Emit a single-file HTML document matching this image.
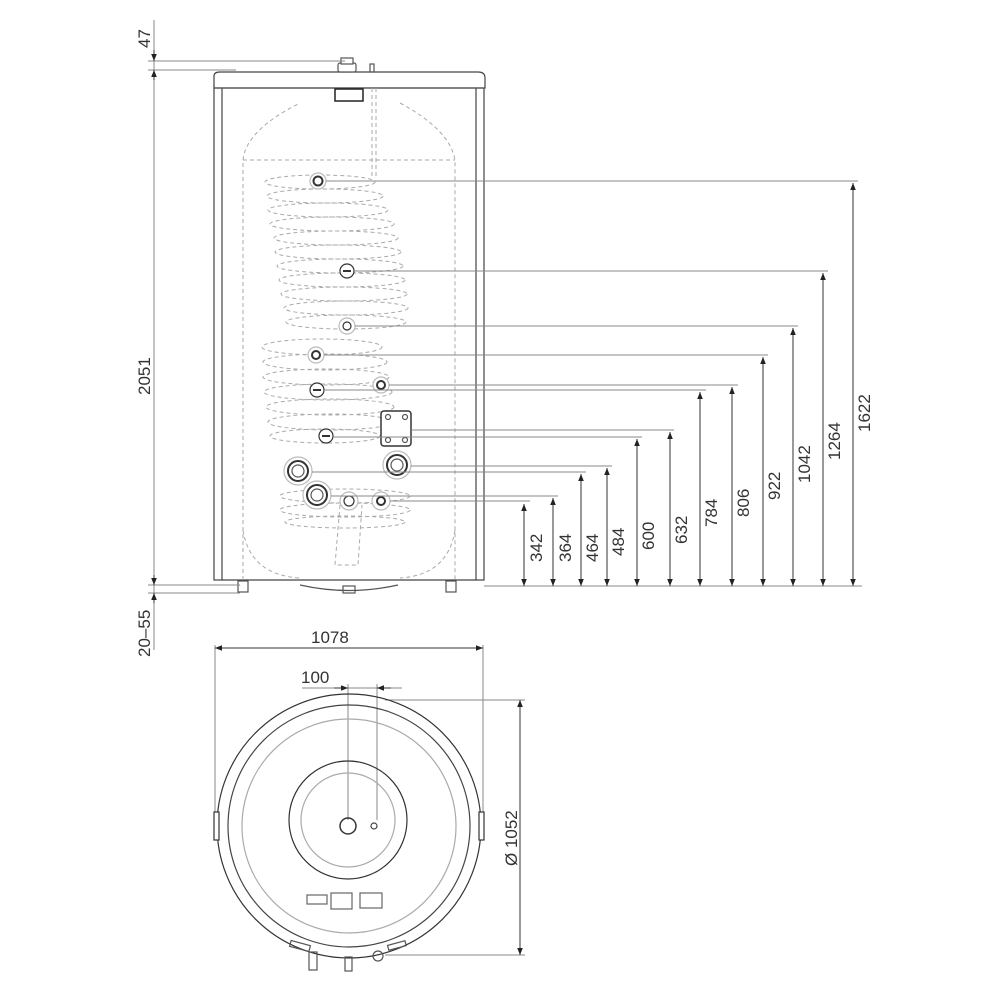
<!DOCTYPE html>
<html><head><style>
html,body{margin:0;padding:0;background:#fff}
svg{display:block}
text{font-family:"Liberation Sans",sans-serif;fill:#333}
</style></head><body>
<svg width="1000" height="1000" viewBox="0 0 1000 1000" xmlns="http://www.w3.org/2000/svg">
<defs>
<marker id="a" viewBox="0 0 10 10" refX="10" refY="5" markerWidth="7" markerHeight="9" orient="auto-start-reverse" markerUnits="userSpaceOnUse"><path d="M0,1 L10,5 L0,9 Z" fill="#222"/></marker>
</defs>
<g stroke="#555" fill="none" stroke-width="1.2">
<!-- case -->
<rect x="214" y="86" width="8" height="494" fill="#fff" stroke="#444"/>
<rect x="476" y="86" width="8" height="494" fill="#fff" stroke="#444"/>
<line x1="222" y1="580" x2="476" y2="580" stroke="#444"/>
<path d="M214,88 L214,76 Q214,72 220,72 L478,72 Q485,72 485,78 L485,88 Z" fill="#fff" stroke="#444"/>
<line x1="214" y1="88" x2="485" y2="88"/>
<rect x="338" y="63" width="18" height="9" rx="2" fill="#fff"/>
<rect x="341" y="58" width="12" height="6" fill="#fff"/>
<rect x="370" y="64" width="4" height="8"/>
<rect x="335" y="89" width="28" height="12" stroke="#222" stroke-width="1.5"/>
<!-- feet -->
<rect x="238" y="581" width="10" height="11"/>
<rect x="446" y="581" width="10" height="11"/>
<rect x="343" y="586" width="12" height="7"/>
<path d="M300,585 Q349,596 398,585"/>
</g>
<!-- inner tank dashed -->
<g stroke="#aaa" fill="none" stroke-width="1" stroke-dasharray="4,3">
<path d="M243,580 L243,160 Q246,130 300,103 M400,103 Q450,130 455,160 L455,580"/>
<path d="M243,530 Q250,575 300,578 M455,530 Q448,575 400,578"/>
<line x1="243" y1="160" x2="455" y2="160"/>
<line x1="372" y1="88" x2="372" y2="176"/><line x1="376" y1="88" x2="376" y2="176"/>
<ellipse cx="320" cy="182" rx="55" ry="7"/>
<ellipse cx="325" cy="196" rx="58" ry="7"/>
<ellipse cx="328" cy="210" rx="60" ry="7"/>
<ellipse cx="332" cy="224" rx="62" ry="7"/>
<ellipse cx="336" cy="238" rx="62" ry="7"/>
<ellipse cx="338" cy="252" rx="63" ry="7"/>
<ellipse cx="340" cy="266" rx="63" ry="7"/>
<ellipse cx="342" cy="280" rx="63" ry="7"/>
<ellipse cx="344" cy="294" rx="63" ry="7"/>
<ellipse cx="346" cy="308" rx="62" ry="7"/>
<ellipse cx="346" cy="322" rx="60" ry="7"/>
<ellipse cx="322" cy="347" rx="60" ry="8"/>
<ellipse cx="325" cy="362" rx="62" ry="8"/>
<ellipse cx="326" cy="377" rx="63" ry="8"/>
<ellipse cx="328" cy="392" rx="64" ry="8"/>
<ellipse cx="330" cy="407" rx="64" ry="8"/>
<ellipse cx="330" cy="422" rx="62" ry="8"/>
<ellipse cx="325" cy="436" rx="55" ry="7"/>
<ellipse cx="345" cy="496" rx="65" ry="7"/>
<ellipse cx="345" cy="510" rx="65" ry="7"/>
<ellipse cx="345" cy="522" rx="60" ry="6"/>
<path d="M340,505 L335,565 L358,565 L362,505"/>
</g>
<!-- fittings -->
<g stroke="#555" fill="#fff" stroke-width="1.2">
<circle cx="318" cy="181" r="8" stroke="#bbb"/><circle cx="318" cy="181" r="4.5" stroke="#333" stroke-width="2"/>
<circle cx="347" cy="271" r="7" stroke="#333"/><line x1="343" y1="271" x2="351" y2="271" stroke="#333" stroke-width="2"/>
<circle cx="347" cy="326" r="8" stroke="#bbb"/><circle cx="347" cy="326" r="4" stroke="#333"/>
<circle cx="316" cy="355" r="8" stroke="#bbb"/><circle cx="316" cy="355" r="4" stroke="#333" stroke-width="2"/>
<circle cx="381" cy="385" r="8" stroke="#bbb"/><circle cx="381" cy="385" r="4" stroke="#333" stroke-width="2"/>
<circle cx="317" cy="390" r="7" stroke="#333"/><line x1="313" y1="390" x2="321" y2="390" stroke="#333" stroke-width="2"/>
<circle cx="326" cy="436" r="7" stroke="#333"/><line x1="322" y1="436" x2="330" y2="436" stroke="#333" stroke-width="2"/>
<rect x="381" y="411" width="30" height="35" rx="3" stroke="#333" stroke-width="1.5"/>
<circle cx="388" cy="417" r="2.5"/><circle cx="405" cy="417" r="2.5"/><circle cx="388" cy="440" r="2.5"/><circle cx="405" cy="440" r="2.5"/>
<circle cx="298" cy="471" r="14" stroke="#bbb"/><circle cx="298" cy="471" r="10" stroke="#333" stroke-width="2"/><circle cx="298" cy="471" r="6"/>
<circle cx="397" cy="465" r="14" stroke="#bbb"/><circle cx="397" cy="465" r="10" stroke="#333" stroke-width="2"/><circle cx="397" cy="465" r="6"/>
<circle cx="317" cy="495" r="14" stroke="#bbb"/><circle cx="317" cy="495" r="10" stroke="#333" stroke-width="2"/><circle cx="317" cy="495" r="6"/>
<circle cx="349" cy="501" r="9" stroke="#bbb"/><circle cx="349" cy="501" r="5" stroke="#333"/>
<circle cx="381" cy="501" r="9" stroke="#bbb"/><circle cx="381" cy="501" r="4" stroke="#333" stroke-width="2"/>
</g>
<!-- leaders -->
<g stroke="#888" stroke-width="1" fill="none">
<polyline points="326,181 858,181"/>
<polyline points="355,271 828,271"/>
<polyline points="355,326 798,326"/>
<polyline points="324,355 768,355"/>
<polyline points="389,385 738,385"/>
<polyline points="324,390 706,390"/>
<polyline points="411,430 674,430"/>
<polyline points="333,437 642,437"/>
<polyline points="411,466 612,466"/>
<polyline points="312,472 586,472"/>
<polyline points="331,496 558,496"/>
<polyline points="390,501 530,501"/>
<line x1="484" y1="586" x2="862" y2="586"/>
<!-- left -->
<line x1="148" y1="61" x2="345" y2="61"/>
<line x1="148" y1="70" x2="236" y2="70"/>
<line x1="148" y1="585" x2="240" y2="585"/>
<line x1="148" y1="593" x2="240" y2="593"/>
<line x1="154" y1="20" x2="154" y2="650"/>
</g>
<g stroke="#333" stroke-width="1">
<line x1="524" y1="504" x2="524" y2="586" marker-start="url(#a)" marker-end="url(#a)"/>
<line x1="553" y1="498" x2="553" y2="586" marker-start="url(#a)" marker-end="url(#a)"/>
<line x1="581" y1="474" x2="581" y2="586" marker-start="url(#a)" marker-end="url(#a)"/>
<line x1="607" y1="468" x2="607" y2="586" marker-start="url(#a)" marker-end="url(#a)"/>
<line x1="637" y1="439" x2="637" y2="586" marker-start="url(#a)" marker-end="url(#a)"/>
<line x1="670" y1="432" x2="670" y2="586" marker-start="url(#a)" marker-end="url(#a)"/>
<line x1="700" y1="392" x2="700" y2="586" marker-start="url(#a)" marker-end="url(#a)"/>
<line x1="732" y1="387" x2="732" y2="586" marker-start="url(#a)" marker-end="url(#a)"/>
<line x1="763" y1="357" x2="763" y2="586" marker-start="url(#a)" marker-end="url(#a)"/>
<line x1="793" y1="328" x2="793" y2="586" marker-start="url(#a)" marker-end="url(#a)"/>
<line x1="823" y1="273" x2="823" y2="586" marker-start="url(#a)" marker-end="url(#a)"/>
<line x1="853" y1="183" x2="853" y2="586" marker-start="url(#a)" marker-end="url(#a)"/>
<line x1="154" y1="50" x2="154" y2="61" marker-end="url(#a)"/>
<line x1="154" y1="80" x2="154" y2="70" marker-end="url(#a)"/>
<line x1="154" y1="575" x2="154" y2="585" marker-end="url(#a)"/>
<line x1="154" y1="603" x2="154" y2="593" marker-end="url(#a)"/>
</g>
<g font-size="17">
<text transform="translate(542,562) rotate(-90)">342</text>
<text transform="translate(571,562) rotate(-90)">364</text>
<text transform="translate(598,562) rotate(-90)">464</text>
<text transform="translate(624,556) rotate(-90)">484</text>
<text transform="translate(654,550) rotate(-90)">600</text>
<text transform="translate(687,544) rotate(-90)">632</text>
<text transform="translate(717,527) rotate(-90)">784</text>
<text transform="translate(749,517) rotate(-90)">806</text>
<text transform="translate(780,500) rotate(-90)">922</text>
<text transform="translate(810,483) rotate(-90)">1042</text>
<text transform="translate(840,460) rotate(-90)">1264</text>
<text transform="translate(870,432) rotate(-90)">1622</text>
<text transform="translate(150,395) rotate(-90)">2051</text>
<text transform="translate(150,48) rotate(-90)">47</text>
<text transform="translate(150,657) rotate(-90)">20–55</text>
<text x="311" y="643">1078</text>
<text x="301" y="683">100</text>
<text transform="translate(517,866) rotate(-90)">Ø 1052</text>
</g>
<!-- top view -->
<g stroke="#888" stroke-width="1" fill="none">
<line x1="215" y1="645" x2="215" y2="815"/>
<line x1="483" y1="645" x2="483" y2="815"/>
<line x1="302" y1="688" x2="402" y2="688"/>
<line x1="348" y1="684" x2="348" y2="820"/>
<line x1="377" y1="684" x2="377" y2="820"/>
<line x1="385" y1="700" x2="525" y2="700"/>
<line x1="385" y1="955" x2="525" y2="955"/>
</g>
<g stroke="#333" stroke-width="1">
<line x1="230" y1="648" x2="215" y2="648" marker-end="url(#a)"/><line x1="230" y1="648" x2="468" y2="648"/>
<line x1="468" y1="648" x2="483" y2="648" marker-end="url(#a)"/>
<line x1="334" y1="688" x2="348" y2="688" marker-end="url(#a)"/>
<line x1="391" y1="688" x2="377" y2="688" marker-end="url(#a)"/>
<line x1="520" y1="700" x2="520" y2="955" marker-start="url(#a)" marker-end="url(#a)"/>
</g>
<g fill="none" stroke-width="1.2">
<circle cx="349" cy="826" r="132" stroke="#333"/>
<circle cx="349" cy="826" r="121" stroke="#444"/>
<circle cx="349" cy="826" r="107" stroke="#aaa"/>
<circle cx="348" cy="820" r="59" stroke="#333"/>
<circle cx="348" cy="820" r="47" stroke="#aaa"/>
<circle cx="348" cy="826" r="8" stroke="#333" stroke-width="1.5"/>
<circle cx="374" cy="826" r="3" stroke="#444"/>
<rect x="214" y="812" width="5" height="28" fill="#fff" stroke="#333"/>
<rect x="479" y="812" width="5" height="28" fill="#fff" stroke="#333"/>
<rect x="307" y="895" width="20" height="9" stroke="#666"/>
<rect x="331" y="893" width="21" height="16" stroke="#666"/>
<rect x="360" y="893" width="22" height="15" stroke="#666"/>
<rect x="290" y="943" width="20" height="6" stroke="#555" transform="rotate(15 300 946)"/>
<rect x="388" y="943" width="18" height="5" stroke="#555" transform="rotate(-15 397 946)"/>
<rect x="309" y="952" width="8" height="18" stroke="#555"/>
<rect x="345" y="957" width="7" height="14" stroke="#555"/>
<circle cx="378" cy="956" r="5" stroke="#555"/>
</g>
</svg>
</body></html>
